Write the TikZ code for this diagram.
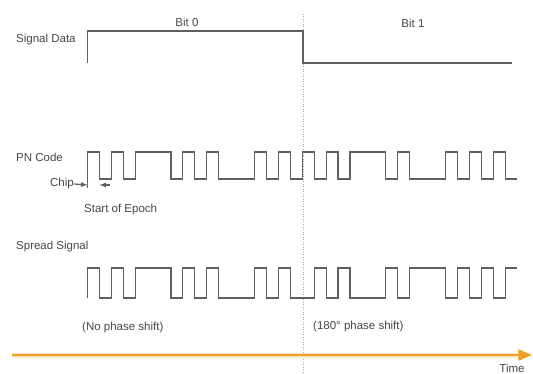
\documentclass[tikz,border=0pt]{standalone}
\usepackage{fontspec}
\setmainfont{Liberation Sans}
\usetikzlibrary{arrows}

\definecolor{wavegray}{RGB}{95,95,95}
\definecolor{textgray}{RGB}{70,70,70}
\definecolor{timeorange}{RGB}{240,160,35}

% chip width and start of the first chip
\newcommand{\chipw}{11.93}
\newcommand{\chipx}{87.5}
% #1 start y, #2 high y, #3 low y, #4 chip levels
\newcommand{\drawwave}[4]{%
	\draw[wave] (\chipx,#1)
		\foreach \lev [count=\i from 0] in {#4} {
			-- ({\chipx+\i*\chipw},{#3+\lev*(#2-#3)})
			-- ({\chipx+(\i+1)*\chipw},{#3+\lev*(#2-#3)})
		};
}

\begin{document}
\begin{tikzpicture}[x=1pt,y=-1pt,
		lbl/.style={font=\fontsize{11.5}{12}\selectfont, text=textgray, inner sep=0pt},
		wave/.style={draw=wavegray, line width=1.1pt},
		chipmark/.style={draw=wavegray, line width=1.2pt, -latex},
		bitline/.style={draw=gray!70, line width=0.9pt, dash pattern=on 1pt off 1.5pt},
		timeline/.style={draw=timeorange, line width=2.2pt, -triangle 45}]
		\useasboundingbox (0,0) rectangle (533,374);

		% Row labels
		\node[lbl, anchor=west] (data label) at (16,40) {Signal Data};
		\node[lbl, anchor=west] (pn label) at (16,157) {PN Code};
		\node[lbl, anchor=west] (spread label) at (16,247) {Spread Signal};
		\node[lbl] (bit zero) at (187,22) {Bit 0};
		\node[lbl] (bit one) at (413,23) {Bit 1};

		% Dotted border between the two bits
		\draw[bitline] (303,14) coordinate (bit top) -- (303,374)
			coordinate (bit bottom);

		% Data: high for bit 0, low for bit 1
		\draw[wave, line width=1.3pt] (\chipx,63) -- (\chipx,31) -- (303,31)
			-- (303,63) -- (512,63);

		% PN code, 18 chips for each bit
		\drawwave{188}{152}{179}{1,0,1,0,1,1,1,0,1,0,1,0,0,0,1,0,1,0,
			1,0,1,0,1,1,1,0,1,0,0,0,1,0,1,0,1,0}

		% Chip width marks
		\coordinate (pn start) at (\chipx,185);
		\coordinate (chip end) at ({\chipx+\chipw},185);
		\coordinate (chip tail) at (110,185);
		\node[lbl, anchor=east] (chip) at (74,184) {Chip};
		\draw[chipmark] (chip.east) -- (pn start);
		\draw[chipmark] (chip tail) -- (chip end);
		\node[lbl, anchor=west] (epoch) at (84,210) {Start of Epoch};

		% Spread signal = data xor PN code
		\drawwave{298}{268}{298}{1,0,1,0,1,1,1,0,1,0,1,0,0,0,1,0,1,0,
			0,1,0,1,0,0,0,1,0,1,1,1,0,1,0,1,0,1}
		\node[lbl, anchor=west] (no shift) at (82,328) {(No phase shift)};
		\node[lbl, anchor=west] (half shift) at (313,327) {(180° phase shift)};

		% Time axis
		\draw[timeorange!25, line width=5pt] (12,355) coordinate (time start)
			-- (526,355) coordinate (time halo);
		\draw[timeline] (time start) -- (532,355) coordinate (time end);
		\node[lbl] (time) at (512,368) {Time};
	\end{tikzpicture}
\end{document}
